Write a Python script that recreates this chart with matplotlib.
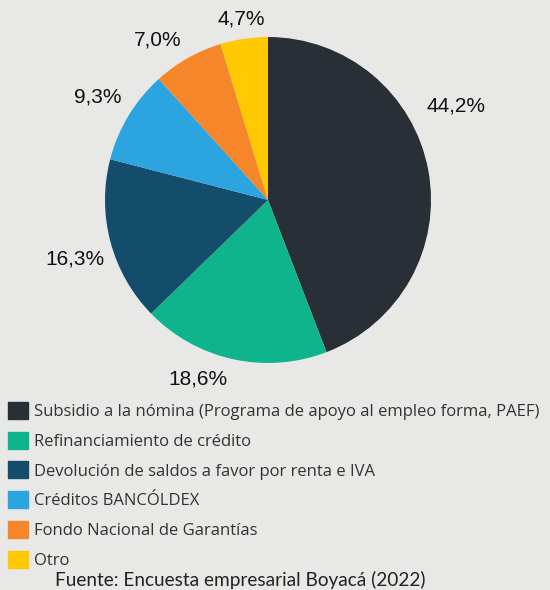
import matplotlib
matplotlib.use("Agg")
import numpy as np
import matplotlib.pyplot as plt
import matplotlib.patches as mpatches

categorias = [
    "Subsidio a la nómina (Programa de apoyo al empleo forma, PAEF)",
    "Refinanciamiento de crédito",
    "Devolución de saldos a favor por renta e IVA",
    "Créditos BANCÓLDEX",
    "Fondo Nacional de Garantías",
    "Otro",
]
porcentajes = [44.2, 18.6, 16.3, 9.3, 7.0, 4.7]
colores = ["#282f37", "#10b48c", "#134d6b", "#2ba4e0", "#f5862a", "#ffc800"]
fuente = "Fuente: Encuesta empresarial Boyacá (2022)"

fondo = "#e8e9e6"
W, H = 550, 590
cx, cy, r = 268, H - 200, 163

fig = plt.figure(figsize=(W / 100, H / 100), dpi=100, facecolor=fondo)
ax = fig.add_axes([0, 0, 1, 1])
ax.set_facecolor(fondo)

wedges, _, pcts = ax.pie(
    porcentajes, colors=colores, startangle=90, counterclock=False,
    center=(cx, cy), radius=r, frame=True,
    autopct=lambda p: f"{p:.1f}%".replace(".", ","), pctdistance=1.2,
    textprops=dict(fontsize=15, family="Liberation Sans", color="#111111"),
    wedgeprops=dict(linewidth=0),
)
# ajuste de posición de etiquetas (distancia radial y giro, como en el original)
radios = [1.29, 1.18, 1.24, 1.22, 1.19, 1.12]
giros = [16, -9, 2, 0, 5, 0]
for w, t, rr, g in zip(wedges, pcts, radios, giros):
    ang = np.deg2rad((w.theta1 + w.theta2) / 2 + g)
    t.set_position((cx + rr * r * np.cos(ang), cy + rr * r * np.sin(ang)))

ax.set_xlim(0, W)
ax.set_ylim(0, H)
ax.set_aspect("equal")
ax.axis("off")

handles = [mpatches.Patch(color=c, label=l) for c, l in zip(colores, categorias)]
fig.legend(handles=handles, loc="upper left", bbox_to_anchor=(-0.007, 1 - 390 / H),
           frameon=False, handlelength=1.2, handleheight=1.2,
           handletextpad=0.4, labelspacing=0.7, borderaxespad=0.3,
           labelcolor="#333333", prop=dict(family="Open Sans", size=12))

fig.text(55 / W, 1 - 580 / H, fuente, ha="left", va="center", fontsize=13.7,
         family="Lato", color="#222222")

fig.savefig("out.png", dpi=100, facecolor=fondo)
